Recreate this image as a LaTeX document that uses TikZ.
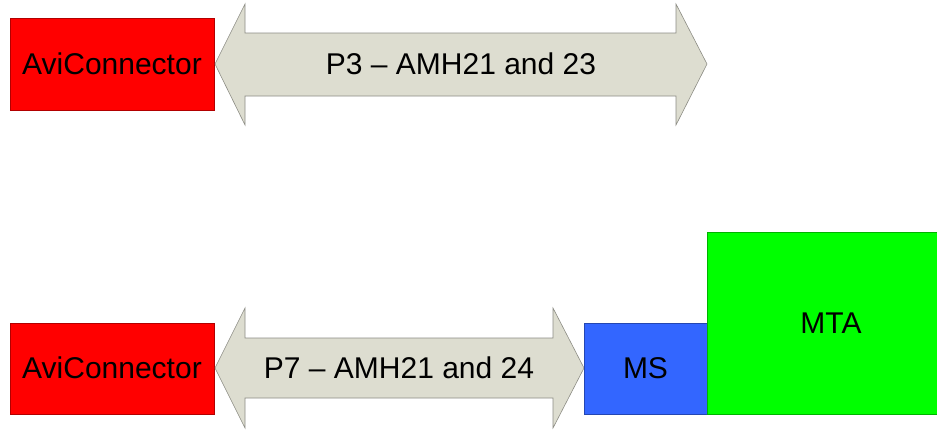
\documentclass[tikz,border=0pt]{standalone}
\usepackage{fontspec}
\setmainfont{Liberation Sans}
\definecolor{redbox}{HTML}{FF0000}
\definecolor{arrowfill}{HTML}{DDDDD0}
\definecolor{arrowline}{HTML}{8C8C84}
\definecolor{bluebox}{HTML}{3366FF}
\definecolor{greenbox}{HTML}{00FF00}
\begin{document}
\begin{tikzpicture}[x=1pt,y=-1pt,
  lbl/.style={font=\fontsize{30}{32}\selectfont, text=black, inner sep=0pt},
  boxstyle/.style={draw=#1!70!black, line width=0.6pt},
  arrowstyle/.style={fill=arrowfill, draw=arrowline, line width=0.6pt}]
\useasboundingbox (0,0) rectangle (937,429);
% top row
\fill[redbox] (10,18) rectangle (214,110);
\draw[boxstyle=redbox] (10,18) rectangle (214,110);
\node[lbl] (avi1) at (112,64) {AviConnector};
\draw[arrowstyle] (215,64) -- (245,4) -- (245,33) -- (676,33) -- (676,4)
  -- (707,64) -- (676,125) -- (676,96) -- (245,96) -- (245,125) -- cycle;
\node[lbl] (p3) at (461,64) {P3 – AMH21 and 23};
% bottom row
\fill[redbox] (10,323) rectangle (214,414);
\draw[boxstyle=redbox] (10,323) rectangle (214,414);
\node[lbl] (avi2) at (112,368) {AviConnector};
\draw[arrowstyle] (215,368) -- (245,308) -- (245,338) -- (553,338) -- (553,308)
  -- (584,368) -- (553,428) -- (553,398) -- (245,398) -- (245,428) -- cycle;
\node[lbl] (p7) at (399,368) {P7 – AMH21 and 24};
\fill[bluebox] (584,323) rectangle (707,414);
\draw[boxstyle=bluebox] (584,323) rectangle (707,414);
\node[lbl] (ms) at (645.5,368) {MS};
\fill[greenbox] (707,232) rectangle (937,414);
\draw[boxstyle=greenbox] (707,232) rectangle (937,414);
\node[lbl] (mta) at (831,323) {MTA};
\end{tikzpicture}
\end{document}
